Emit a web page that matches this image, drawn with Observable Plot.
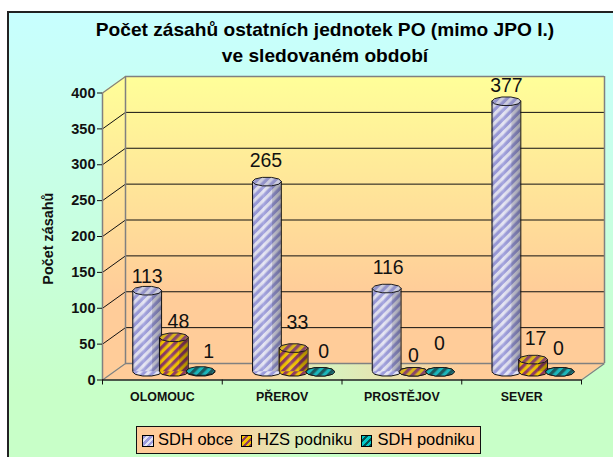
<!DOCTYPE html>
<html><head><meta charset="utf-8">
<script src="https://cdn.jsdelivr.net/npm/d3@7"></script>
<script src="https://cdn.jsdelivr.net/npm/@observablehq/plot@0.6"></script>
<style>
html,body{margin:0;padding:0;background:#fff;overflow:hidden}
#wrap{position:relative;width:613px;height:457px;overflow:hidden;font-family:"Liberation Sans",Arial,sans-serif;color:#000}
#frame{position:absolute;left:7px;top:11px;width:606px;height:446px;box-sizing:border-box;border-left:2px solid #222;border-top:2px solid #222;background:linear-gradient(180deg,#C8FFFF 0%,#C8FFC8 85%,#C8FFC8 100%)}
#title{position:absolute;left:95px;width:460px;top:17px;text-align:center;font-weight:bold;font-size:19.15px;line-height:25.5px;white-space:nowrap}
#chart{position:absolute;left:0;top:0}
#chart svg{background:transparent;display:block}
#legend{position:absolute;left:136px;top:425.5px;width:345px;height:28.5px;box-sizing:border-box;border:1.3px solid #111;background:linear-gradient(90deg,#FFCC99 0%,#FFCC99 25%,#D8F2BE 50%,#FFCC99 78%,#FFCC99 100%);font-size:16.5px}
.sw{position:absolute;top:8.5px;width:9.5px;height:9.5px;border:1px solid #000}
.lb{position:absolute;top:3.2px;line-height:19px;white-space:nowrap}
</style></head>
<body><div id="wrap"><div id="frame"></div><div id="chart"></div><div id="title"></div><div id="legend"></div></div>
<script>
const titleLines = ["Počet zásahů ostatních jednotek PO (mimo JPO I.)", "ve sledovaném období"];
const yTitle = "Počet zásahů";
const categories = ["OLOMOUC", "PŘEROV", "PROSTĚJOV", "SEVER"];
const seriesNames = ["SDH obce", "HZS podniku", "SDH podniku"];
const sdhObce = [113, 265, 116, 377];
const hzsPodniku = [48, 33, 0, 17];
const sdhPodniku = [1, 0, 0, 0];
const yTicks = [0, 50, 100, 150, 200, 250, 300, 350, 400];
// hand-placed data label nudges in reference (px: right, up from the top of each bar)
const labelNudgeX = [[0, -1, 1.5, 0], [4.5, 3.8, 0, 2.4], [8, 3.4, -0.6, -1.3]];
const labelNudgeY = [[7.7, 14.7, 14.3, 8.9], [9.4, 18.8, 9.8, 14.3], [12.8, 13.5, 21.5, 16.5]];

const seriesValues = [sdhObce, hzsPodniku, sdhPodniku];
const ids = ["p0", "p1", "p2"];
const stripes = [["#9C9CDC", "#E4E4F4"], ["#F4C400", "#8E3A62"], ["#00C8C8", "#045050"]];
const xPx = 119.75, yPx = 0.7175;
const depthX = 23 / xPx, depthY = 16.5 / yPx;
const spacing = 26.7 / xPx, halfW = 14.4 / xPx;
const base = depthY / 2;

const rows = seriesValues.map((vals, s) => vals.map((v, i) => {
  const c = i + 0.5 + depthX / 2 + (s - 1) * spacing;
  return {s, i, v, c, x1: c - halfW, x2: c + halfW, y0: base, y1: base + v,
    lx: c + labelNudgeX[s][i] / xPx, ly: base + v + labelNudgeY[s][i] / yPx};
}));

const lid = {draw(ctx, size) {
  const R = Math.sqrt(size / Math.PI), n = 10;
  for (let k = 0; k < n; k++) {
    const a = k * 2 * Math.PI / n, px = R * Math.cos(a), py = R * 0.29 * Math.sin(a) * 1.05;
    k ? ctx.lineTo(px, py) : ctx.moveTo(px, py);
  }
  ctx.closePath();
}};

const ns = "http://www.w3.org/2000/svg";
function defs() {
  const d = document.createElementNS(ns, "defs");
  d.innerHTML = stripes.map(([a, b], k) => `
    <pattern id="${ids[k]}" patternUnits="userSpaceOnUse" width="6.4" height="6.4" patternTransform="rotate(45)">
      <rect width="6.4" height="6.4" fill="${a}"/><rect width="3.2" height="6.4" fill="${b}"/>
    </pattern>`).join("") + `
    <linearGradient id="wall" gradientUnits="userSpaceOnUse" x1="0" y1="76" x2="0" y2="380">
      <stop offset="0" stop-color="#FFFF99"/><stop offset="0.72" stop-color="#FFCC99"/><stop offset="1" stop-color="#FFCC99"/>
    </linearGradient>
    <linearGradient id="floor" gradientUnits="userSpaceOnUse" x1="102" y1="0" x2="604" y2="0">
      <stop offset="0" stop-color="#FFCC99"/><stop offset="0.3" stop-color="#FFCC99"/><stop offset="0.46" stop-color="#D8F2BE"/><stop offset="0.72" stop-color="#FFCC99"/><stop offset="1" stop-color="#FFCC99"/>
    </linearGradient>
    <linearGradient id="shade" x1="0" y1="0" x2="1" y2="0">
      <stop offset="0" stop-color="#000" stop-opacity="0.18"/><stop offset="0.12" stop-color="#000" stop-opacity="0.02"/>
      <stop offset="0.4" stop-color="#fff" stop-opacity="0.12"/><stop offset="0.68" stop-color="#000" stop-opacity="0.03"/>
      <stop offset="0.7" stop-color="#000" stop-opacity="0.16"/><stop offset="1" stop-color="#000" stop-opacity="0.3"/>
    </linearGradient>`;
  return d;
}

const gridVals = yTicks.filter(v => v > 0);
const edge = "#808080";
const marks = [
  defs,
  // back wall, side wall, floor
  Plot.rect([0], {x1: depthX, x2: 4 + depthX, y1: depthY, y2: 400 + depthY, fill: "url(#wall)", inset: 0}),
  Plot.area([0, 1], {x1: d => d * depthX, x2: d => d * depthX, y1: d => d * depthY, y2: d => 400 + d * depthY, fill: "url(#wall)"}),
  Plot.area([0, 1], {x1: d => d * depthX, x2: d => 4 + d * depthX, y1: d => d * depthY, y2: d => d * depthY, fill: "url(#floor)"}),
  // gridlines on both walls
  Plot.ruleY(gridVals.slice(0, -1), {x1: depthX, x2: 4 + depthX, y: d => d + depthY, stroke: "#111", strokeWidth: 1}),
  Plot.link(gridVals.slice(0, -1), {x1: 0, x2: depthX, y1: d => d, y2: d => d + depthY, stroke: "#111", strokeWidth: 1}),
  // wall outlines
  Plot.ruleY([400 + depthY], {x1: depthX, x2: 4 + depthX, stroke: edge, strokeWidth: 1.5}),
  Plot.ruleY([depthY], {x1: depthX, x2: 4 + depthX, stroke: edge, strokeWidth: 1.5}),
  Plot.ruleX([depthX, 4 + depthX], {y1: depthY, y2: 400 + depthY, stroke: edge, strokeWidth: 1.5}),
  Plot.ruleX([0], {y1: 0, y2: 400, stroke: edge, strokeWidth: 1.5}),
  Plot.link([0], {x1: 0, x2: depthX, y1: 400, y2: 400 + depthY, stroke: edge, strokeWidth: 1.2}),
  Plot.link([0, 4], {x1: d => d, x2: d => d + depthX, y1: 0, y2: depthY, stroke: edge, strokeWidth: 1.2}),
  Plot.ruleY([0], {x1: 0, x2: 4, stroke: "#222", strokeWidth: 1.5}),
  // axes
  Plot.axisY({ticks: yTicks, tickSize: 5, tickPadding: 2, label: null, fontWeight: "bold", fontSize: 14.5, stroke: "#111", fill: "#111"}),
  Plot.axisX({ticks: [0, 1, 2, 3, 4], tickSize: 5, tickFormat: () => "", label: null, stroke: "#111"}),
  Plot.text(categories, {x: (d, i) => i + 0.5, y: -23.5, text: d => d, fontWeight: "bold", fontSize: 12.4, fill: "#111", textAnchor: "middle", lineAnchor: "middle"}),
  Plot.text([yTitle], {x: -0.451, y: 197, text: d => d, rotate: -90, fontWeight: "bold", fontSize: 14.4, fill: "#111"})
];

rows.forEach((r, s) => {
  const fill = `url(#${ids[s]})`;
  marks.push(
    Plot.dot(r, {x: "c", y: "y0", r: 14.6, symbol: lid, fill, stroke: "#111", strokeWidth: 1}),
    Plot.rect(r.filter(d => d.v > 0), {x1: "x1", x2: "x2", y1: "y0", y2: "y1", fill, inset: 0}),
    Plot.rect(r.filter(d => d.v > 0), {x1: "x1", x2: "x2", y1: "y0", y2: "y1", fill: "url(#shade)", inset: 0}),
    Plot.ruleX(r.filter(d => d.v > 0), {x: "x1", y1: "y0", y2: "y1", stroke: "#111", strokeWidth: 1}),
    Plot.ruleX(r.filter(d => d.v > 0), {x: "x2", y1: "y0", y2: "y1", stroke: "#111", strokeWidth: 1}),
    Plot.dot(r, {x: "c", y: "y1", r: 14.6, symbol: lid, fill, stroke: "#111", strokeWidth: 1}),
    Plot.dot(r, {x: "c", y: "y1", r: 14.6, symbol: lid, fill: "#778", fillOpacity: 0.22})
  );
});
rows.forEach(r => marks.push(
  Plot.text(r, {x: "lx", y: "ly", text: d => String(d.v), fontSize: 19.5, fill: "#111", textAnchor: "middle", lineAnchor: "bottom"})
));

const chart = Plot.plot({
  width: 613, height: 420, marginTop: 92.5, marginBottom: 40.5, marginLeft: 102, marginRight: 32,
  x: {domain: [0, 4]},
  y: {domain: [0, 400]},
  style: {fontFamily: '"Liberation Sans", Arial, sans-serif', background: "transparent", color: "#111", overflow: "visible"},
  marks
});
document.getElementById("chart").append(chart);

document.getElementById("title").innerHTML = titleLines.join("<br>");
const legend = document.getElementById("legend");
const swX = [5, 103.5, 223.5], lbX = [21, 120, 240.5];
seriesNames.forEach((n, k) => {
  const [a, b] = stripes[k];
  legend.insertAdjacentHTML("beforeend",
    `<div class="sw" style="left:${swX[k]}px;background:repeating-linear-gradient(135deg,${a} 0 2.4px,${b} 2.4px 4.8px)"></div><div class="lb" style="left:${lbX[k]}px">${n}</div>`);
});
</script></body></html>
